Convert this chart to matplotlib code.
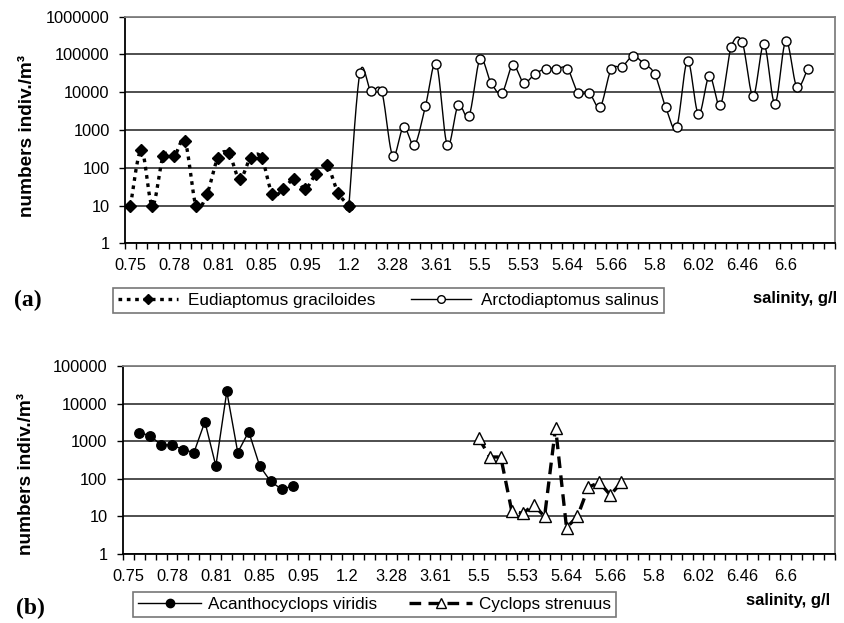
import numpy as np
import matplotlib
matplotlib.use("Agg")
import matplotlib.pyplot as plt
from matplotlib.lines import Line2D
from matplotlib.ticker import FixedLocator, FuncFormatter, NullLocator

plt.rcParams['font.family'] = ['Liberation Sans', 'DejaVu Sans']

# salinity categories (65 samples, every 4th one labelled)
n_cat = 65
tick_labels = ['0.75', '0.78', '0.81', '0.85', '0.95', '1.2', '3.28', '3.61',
               '5.5', '5.53', '5.64', '5.66', '5.8', '6.02', '6.46', '6.6']

# (a) Calanoida
eud_start = 0
eudiaptomus = [10, 300, 10, 200, 200, 500, 10, 20, 180, 240, 50, 185, 185,
               20, 28, 50, 28, 70, 115, 22, 10]
arc_start = 20
arctodiaptomus = [10, 32000, 11000, 10500, 210, 1200, 400, 4200, 57000, 400,
                  4500, 2400, 75000, 18000, 9500, 52000, 18000, 30000, 42000,
                  42000, 42000, 9500, 9500, 4100, 40000, 47000, 90000, 57000,
                  30000, 4000, 1200, 68000, 2600, 27000, 4500, 160000, 215000,
                  8000, 187000, 5000, 230000, 14000, 42000]

# (b) Cyclopoida
aca_start = 1
acanthocyclops = [1700, 1400, 800, 800, 600, 500, 3300, 220, 21000, 500,
                  1800, 220, 85, 53, 64]
cyc_start = 32
cyclops = [1200, 380, 380, 14, 12, 20, 10, 2300, 5, 10, 60, 80, 37, 80]


def smooth(xs, ys, n=24):
    # excel-like smoothed line (catmull-rom bezier in log space)
    xs = np.asarray(xs, float)
    ly = np.log10(np.asarray(ys, float))
    m = len(xs)
    outx, outy = [], []
    t = np.linspace(0, 1, n)
    for i in range(m - 1):
        i0, i3 = max(i - 1, 0), min(i + 2, m - 1)
        p0 = np.array([xs[i0], ly[i0]])
        p1 = np.array([xs[i], ly[i]])
        p2 = np.array([xs[i + 1], ly[i + 1]])
        p3 = np.array([xs[i3], ly[i3]])
        c1 = p1 + (p2 - p0) / 6
        c2 = p2 - (p3 - p1) / 6
        b = ((1 - t) ** 3)[:, None] * p1 + (3 * (1 - t) ** 2 * t)[:, None] * c1 \
            + (3 * (1 - t) * t ** 2)[:, None] * c2 + (t ** 3)[:, None] * p2
        outx.extend(b[:, 0])
        outy.extend(b[:, 1])
    return np.array(outx), 10 ** np.array(outy)


def style_axes(ax, ymax):
    ax.set_yscale('log')
    ax.set_ylim(1, ymax)
    ax.set_xlim(-0.5, n_cat - 0.5)
    ax.yaxis.set_major_locator(FixedLocator([10 ** k for k in range(int(np.log10(ymax)) + 1)]))
    ax.yaxis.set_minor_locator(NullLocator())
    ax.yaxis.set_major_formatter(FuncFormatter(lambda v, p: '%d' % round(v)))
    ax.grid(True, axis='y', color='#303030', linewidth=1.2)
    ax.set_axisbelow(True)
    ax.xaxis.set_major_locator(FixedLocator(np.arange(len(tick_labels)) * 4))
    ax.set_xticklabels(tick_labels)
    ax.xaxis.set_minor_locator(FixedLocator(np.arange(-0.5, n_cat, 1)))
    ax.tick_params(axis='x', which='major', length=0, pad=10.5, labelsize=11.8)
    ax.tick_params(axis='x', which='minor', length=4, width=1, direction='out')
    ax.tick_params(axis='y', which='major', length=4, width=1, pad=7, labelsize=11.8)
    for s in ['left', 'bottom']:
        ax.spines[s].set_color('black')
        ax.spines[s].set_linewidth(1.3)
    for s in ['top', 'right']:
        ax.spines[s].set_color('#808080')
        ax.spines[s].set_linewidth(1.3)


fig = plt.figure(figsize=(8.44, 6.23), dpi=100)

# ---- panel (a)
ax1 = fig.add_axes([125 / 844, 1 - 243.3 / 623, 710 / 844, 226.6 / 623])
style_axes(ax1, 1e6)

x_eud = np.arange(eud_start, eud_start + len(eudiaptomus))
sx, sy = smooth(x_eud, eudiaptomus)
ax1.plot(sx, sy, color='black', lw=2.4, linestyle=(0, (1.1, 1.4)), zorder=3)
ax1.plot(x_eud, eudiaptomus, 'D', color='black', ms=5.8, zorder=5)

x_arc = np.arange(arc_start, arc_start + len(arctodiaptomus))
sx, sy = smooth(x_arc, arctodiaptomus)
ax1.plot(sx, sy, color='black', lw=1.0, zorder=3)
ax1.plot(x_arc, arctodiaptomus, 'o', mfc='white', mec='black', mew=1.0, ms=6.5, zorder=4)

# ---- panel (b)
ax2 = fig.add_axes([122.7 / 844, 1 - 554 / 623, 712.3 / 844, 188 / 623])
style_axes(ax2, 1e5)

x_aca = np.arange(aca_start, aca_start + len(acanthocyclops))
ax2.plot(x_aca, acanthocyclops, '-o', color='black', lw=1.0, ms=6.8, zorder=4)

x_cyc = np.arange(cyc_start, cyc_start + len(cyclops))
ax2.plot(x_cyc, cyclops, color='black', lw=2.4, linestyle=(0, (3.5, 2.2)), zorder=3)
ax2.plot(x_cyc, cyclops, '^', mfc='white', mec='black', mew=1.0, ms=9, zorder=4)

# ---- labels
ylab = 'numbers indiv./m\u00b3'
fig.text(28 / 844, 1 - 136 / 623, ylab, rotation=90, ha='center', va='center',
         fontsize=13.7, fontweight='bold')
fig.text(27 / 844, 1 - 474 / 623, ylab, rotation=90, ha='center', va='center',
         fontsize=13.7, fontweight='bold')

fig.text(14 / 844, 1 - 300 / 623, '(a)', ha='left', va='center', fontsize=17,
         fontweight='bold', family='Liberation Serif')
fig.text(16 / 844, 1 - 608 / 623, '(b)', ha='left', va='center', fontsize=17,
         fontweight='bold', family='Liberation Serif')

fig.text(837 / 844, 1 - 299 / 623, 'salinity, g/l', ha='right', va='center',
         fontsize=12, fontweight='bold')
fig.text(830 / 844, 1 - 601 / 623, 'salinity, g/l', ha='right', va='center',
         fontsize=12, fontweight='bold')

# ---- legends
h_eud = Line2D([], [], color='black', lw=2.4, linestyle=(0, (1.1, 1.4)),
               marker='D', ms=5)
h_arc = Line2D([], [], color='black', lw=1.0, marker='o', mfc='white',
               mec='black', ms=5.5)
leg1 = fig.legend([h_eud, h_arc], ['Eudiaptomus graciloides', 'Arctodiaptomus salinus'],
                  loc='upper left', bbox_to_anchor=(113 / 844, 1 - 288 / 623),
                  ncol=2, fontsize=12.3, frameon=True, fancybox=False,
                  edgecolor='#555555', handlelength=3.5, handletextpad=0.6,
                  columnspacing=2.1, borderpad=0.3, borderaxespad=0)
leg1.get_frame().set_linewidth(1.2)

h_aca = Line2D([], [], color='black', lw=1.0, marker='o', ms=6)
h_cyc = Line2D([], [], color='black', lw=2.4, linestyle=(0, (3.5, 2.2)),
               marker='^', mfc='white', mec='black', ms=7)
leg2 = fig.legend([h_aca, h_cyc], ['Acanthocyclops viridis', 'Cyclops strenuus'],
                  loc='upper left', bbox_to_anchor=(133 / 844, 1 - 592 / 623),
                  ncol=2, fontsize=12.3, frameon=True, fancybox=False,
                  edgecolor='#555555', handlelength=3.7, handletextpad=0.4,
                  columnspacing=1.85, borderpad=0.3, borderaxespad=0)
leg2.get_frame().set_linewidth(1.2)

fig.savefig('out.png', dpi=100)
